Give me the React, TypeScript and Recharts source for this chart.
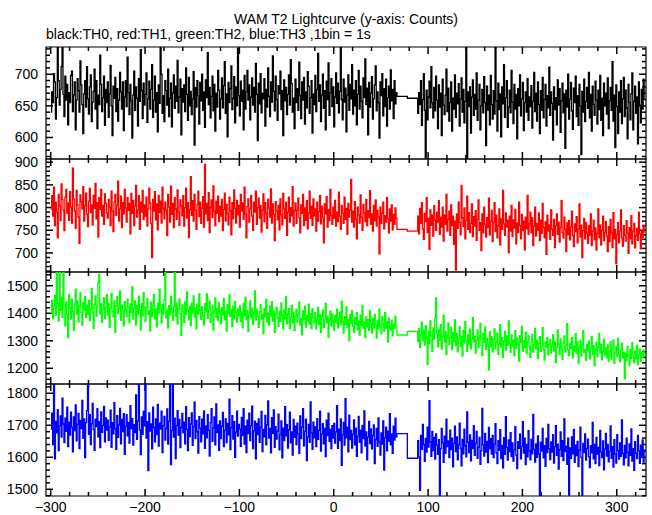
import { ComposedChart, Line, XAxis, YAxis, ReferenceArea } from 'recharts';

// time bins (1 bin = 1 s): segment A from -300, two wide gap bins, segment B from 89
const START_A = -300;
const START_B = 89;
const GAP_T = [67, 78];

const X_TICKS = [-300, -280, -260, -240, -220, -200, -180, -160, -140, -120, -100, -80, -60, -40, -20, 0, 20, 40, 60, 80, 100, 120, 140, 160, 180, 200, 220, 240, 260, 280, 300, 320];

const TH0_TICKS = [570, 580, 590, 600, 610, 620, 630, 640, 650, 660, 670, 680, 690, 700, 710, 720, 730, 740];
const TH1_TICKS = [660, 670, 680, 690, 700, 710, 720, 730, 740, 750, 760, 770, 780, 790, 800, 810, 820, 830, 840, 850, 860, 870, 880, 890, 900];
const TH2_TICKS = [1160, 1180, 1200, 1220, 1240, 1260, 1280, 1300, 1320, 1340, 1360, 1380, 1400, 1420, 1440, 1460, 1480, 1500, 1520, 1540];
const TH3_TICKS = [1480, 1500, 1520, 1540, 1560, 1580, 1600, 1620, 1640, 1660, 1680, 1700, 1720, 1740, 1760, 1780, 1800, 1820];

// TH0 (black)
const th0A = [
  640, 672, 655, 701, 688, 629, 663, 745, 690, 651, 676, 712, 748, 668, 633, 697, 659, 684, 620, 671,
  655, 698, 705, 641, 667, 688, 612, 659, 693, 674, 640, 721, 683, 652, 606, 669, 690, 648, 712, 661,
  637, 680, 699, 625, 656, 673, 708, 645, 690, 614, 667, 652, 730, 684, 641, 663, 697, 619, 676, 655,
  688, 632, 669, 714, 650, 603, 681, 662, 695, 641, 677, 626, 659, 703, 672, 645, 688, 611, 664, 690,
  649, 727, 671, 636, 684, 658, 599, 667, 705, 643, 680, 662, 618, 693, 657, 739, 674, 630, 686, 651,
  668, 702, 624, 661, 689, 645, 676, 715, 632, 659, 697, 640, 671, 609, 683, 654, 748, 700, 638, 666,
  625, 690, 674, 651, 708, 633, 662, 686, 617, 670, 699, 646, 681, 657, 722, 639, 664, 692, 604, 677,
  656, 683, 641, 710, 668, 627, 695, 650, 673, 636, 661, 704, 588, 679, 648, 690, 666, 621, 687, 658,
  700, 643, 672, 616, 691, 663, 734, 652, 679, 631, 665, 697, 642, 684, 610, 670, 648, 706, 675, 629,
  661, 694, 647, 682, 720, 638, 669, 601, 687, 655, 677, 713, 644, 662, 696, 623, 680, 650, 741, 666,
  634, 689, 657, 675, 612, 698, 645, 672, 706, 659, 683, 628, 664, 694, 651, 679, 640, 717, 668, 595,
  686, 653, 701, 639, 670, 661, 693, 618, 676, 648, 710, 665, 633, 688, 656, 729, 673, 642, 697, 660,
  627, 682, 669, 705, 644, 674, 603, 691, 658, 679, 636, 668, 699, 651, 723, 685, 640, 662, 614, 692,
  655, 677, 643, 719, 666, 630, 688, 659, 695, 621, 672, 647, 704, 681, 638, 663, 690, 607, 669, 652,
  698, 641, 676, 733, 657, 683, 625, 667, 700, 646, 674, 612, 689, 660, 718, 635, 671, 693, 649, 680,
  617, 664, 702, 654, 686, 639, 673, 745, 660, 628, 692, 656, 678, 609, 667, 699, 643, 684, 661, 715,
  637, 675, 650, 690, 620, 668, 706, 645, 681, 657, 631, 694, 663, 724, 652, 678, 604, 687, 648, 670,
  696, 629, 661, 683, 713, 642, 672, 655, 599, 688, 666, 701, 634, 677, 649, 692, 618, 663, 681, 645,
  707, 658, 676, 630, 690, 653, 671,
];
const th0Gap = [665, 662];
const th0B = [
  638, 671, 652, 690, 619, 660, 701, 643, 568, 675, 628, 664, 689, 647, 712, 655, 631, 679, 642, 697,
  659, 614, 683, 648, 670, 603, 692, 651, 636, 667, 708, 641, 678, 626, 655, 688, 610, 662, 645, 699,
  632, 670, 653, 685, 618, 661, 694, 640, 676, 623, 657, 744, 566, 672, 649, 680, 607, 664, 691, 635,
  668, 645, 702, 627, 659, 684, 612, 650, 676, 639, 696, 655, 587, 681, 643, 667, 620, 698, 652, 629,
  674, 637, 745, 658, 610, 686, 644, 669, 601, 680, 653, 715, 632, 663, 690, 616, 648, 675, 639, 706,
  656, 622, 684, 645, 668, 598, 677, 650, 699, 634, 661, 687, 611, 655, 672, 640, 693, 627, 664, 649,
  682, 615, 657, 703, 641, 670, 626, 688, 652, 606, 674, 643, 695, 631, 660, 684, 618, 666, 647, 711,
  635, 672, 654, 596, 680, 644, 663, 620, 691, 651, 677, 608, 658, 686, 639, 669, 583, 675, 648, 700,
  629, 661, 687, 642, 613, 678, 655, 697, 633, 666, 619, 684, 650, 573, 673, 640, 692, 625, 657, 679,
  646, 703, 631, 668, 610, 681, 652, 635, 689, 659, 621, 675, 644, 698, 627, 662, 603, 686, 650, 670,
  637, 694, 614, 658, 679, 643, 720, 626, 667, 584, 683, 649, 606, 672, 640, 690, 622, 661, 695, 633,
  675, 647, 598, 684, 655, 628, 669, 702, 612, 657, 681, 638, 664, 590, 688, 651, 623, 676, 645, 692,
  660,
];

// TH1 (red)
const th1A = [
  797, 826, 781, 845, 760, 812, 790, 733, 829, 804, 771, 852, 818, 795, 749, 823, 840, 787, 810, 772,
  835, 801, 766, 887, 819, 792, 754, 838, 806, 779, 721, 828, 813, 797, 846, 770, 804, 832, 785, 758,
  814, 842, 789, 806, 762, 827, 798, 853, 775, 811, 735, 822, 796, 840, 781, 805, 763, 830, 809, 788,
  777, 818, 801, 760, 836, 792, 747, 812, 829, 783, 805, 858, 770, 797, 825, 756, 811, 786, 840, 799,
  768, 822, 794, 809, 742, 831, 787, 815, 760, 803, 849, 779, 795, 826, 752, 812, 790, 838, 774, 806,
  781, 823, 759, 797, 843, 810, 765, 690, 818, 792, 835, 773, 808, 751, 827, 789, 814, 766, 845, 798,
  775, 812, 794, 738, 829, 801, 768, 847, 785, 809, 756, 822, 797, 774, 839, 790, 761, 817, 804, 782,
  826, 759, 800, 843, 777, 811, 734, 796, 868, 783, 815, 770, 829, 794, 752, 807, 836, 780, 812, 765,
  798, 824, 757, 895, 786, 809, 771, 833, 745, 801, 817, 778, 848, 792, 760, 814, 787, 825, 769, 803,
  781, 818, 749, 796, 832, 770, 807, 787, 762, 823, 793, 740, 811, 775, 839, 798, 766, 816, 784, 805,
  757, 829, 792, 810, 774, 845, 786, 733, 802, 819, 768, 797, 827, 781, 750, 812, 790, 836, 763, 800,
  821, 777, 804, 746, 795, 830, 769, 811, 787, 754, 818, 799, 779, 841, 766, 808, 785, 727, 813, 792,
  773, 805, 751, 819, 784, 762, 831, 797, 776, 812, 739, 790, 823, 768, 800, 782, 846, 759, 793, 810,
  765, 794, 821, 778, 744, 806, 787, 829, 760, 799, 772, 815, 753, 788, 836, 776, 803, 761, 819, 782,
  797, 748, 812, 770, 791, 827, 764, 803, 779, 722, 808, 786, 824, 757, 795, 771, 840, 783, 763, 801,
  776, 816, 759, 790, 769, 834, 781, 752, 805, 787, 765, 823, 774, 798, 741, 809, 779, 795, 862, 768,
  792, 757, 813, 775, 731, 801, 784, 766, 828, 779, 750, 807, 788, 769, 818, 760, 793, 778, 837, 763,
  786, 748, 805, 771, 817, 759, 794, 779, 698, 801, 765, 788, 812, 753, 782, 768, 822, 775, 744, 797,
  770, 806, 751, 785, 763, 799, 776,
];
const th1Gap = [752, 748];
const th1B = [
  781, 742, 798, 765, 811, 753, 730, 787, 769, 822, 745, 776, 708, 795, 761, 783, 737, 804, 772, 750,
  790, 768, 815, 741, 779, 757, 801, 726, 784, 763, 829, 748, 774, 792, 739, 806, 760, 781, 719, 770,
  662, 786, 754, 812, 767, 740, 849, 778, 758, 799, 731, 771, 825, 752, 789, 745, 765, 808, 736, 780,
  759, 793, 728, 774, 817, 750, 767, 705, 786, 744, 801, 762, 735, 778, 756, 821, 740, 770, 794, 725,
  768, 811, 747, 783, 733, 760, 797, 718, 775, 752, 838, 764, 739, 788, 757, 772, 701, 781, 748, 805,
  736, 773, 755, 796, 720, 766, 745, 812, 760, 731, 785, 749, 770, 707, 779, 753, 827, 741, 764, 790,
  744, 778, 716, 759, 801, 737, 765, 750, 788, 727, 772, 743, 809, 756, 733, 769, 697, 783, 748, 762,
  730, 795, 752, 739, 774, 712, 760, 786, 741, 768, 724, 757, 815, 745, 733, 779, 752, 703, 766, 740,
  771, 729, 757, 792, 738, 714, 764, 747, 780, 722, 753, 808, 735, 761, 690, 749, 776, 731, 767, 744,
  721, 760, 739, 786, 716, 748, 772, 729, 755, 706, 743, 797, 734, 762, 718, 750, 781, 727, 745, 769,
  737, 703, 758, 725, 774, 744, 712, 789, 731, 752, 676, 741, 767, 722, 748, 795, 733, 715, 760, 739,
  726, 771, 743, 699, 756, 731, 782, 720, 748, 765, 711, 738, 754, 728, 790, 742, 709, 750, 733, 761,
  744,
];

// TH2 (green)
const th2A = [
  1402, 1448, 1381, 1427, 1465, 1393, 1560, 1436, 1372, 1560, 1410, 1459, 1385, 1560, 1430, 1354, 1441, 1398, 1312, 1467,
  1420, 1379, 1452, 1406, 1338, 1433, 1488, 1397, 1444, 1369, 1426, 1475, 1403, 1357, 1439, 1412, 1461, 1384, 1429, 1395,
  1447, 1373, 1416, 1490, 1402, 1345, 1432, 1463, 1389, 1425, 1511, 1541, 1398, 1436, 1367, 1414, 1456, 1381, 1422, 1468,
  1393, 1437, 1349, 1418, 1472, 1406, 1386, 1445, 1331, 1427, 1460, 1399, 1417, 1481, 1374, 1430, 1408, 1354, 1442, 1413,
  1388, 1451, 1422, 1366, 1434, 1403, 1496, 1379, 1419, 1445, 1357, 1428, 1397, 1462, 1411, 1340, 1436, 1390, 1475, 1420,
  1371, 1424, 1453, 1396, 1409, 1336, 1440, 1387, 1429, 1468, 1380, 1415, 1351, 1437, 1401, 1488, 1419, 1365, 1432, 1397,
  1449, 1560, 1383, 1412, 1346, 1428, 1393, 1461, 1405, 1374, 1425, 1560, 1390, 1438, 1362, 1416, 1452, 1399, 1320, 1430,
  1408, 1366, 1441, 1395, 1478, 1414, 1377, 1423, 1355, 1437, 1402, 1463, 1386, 1419, 1343, 1433, 1396, 1470, 1411, 1378,
  1424, 1391, 1357, 1435, 1406, 1470, 1382, 1413, 1444, 1367, 1399, 1429, 1339, 1410, 1456, 1385, 1417, 1373, 1438, 1401,
  1362, 1420, 1394, 1453, 1376, 1408, 1335, 1431, 1398, 1467, 1389, 1412, 1351, 1426, 1380, 1442, 1404, 1368, 1415, 1390,
  1427, 1371, 1403, 1348, 1436, 1392, 1459, 1377, 1410, 1333, 1398, 1445, 1383, 1419, 1360, 1402, 1481, 1375, 1414, 1388,
  1349, 1405, 1432, 1379, 1396, 1326, 1418, 1387, 1450, 1368, 1401, 1357, 1426, 1390, 1442, 1372, 1409, 1331, 1395, 1421,
  1384, 1352, 1407, 1371, 1438, 1393, 1343, 1412, 1380, 1460, 1362, 1398, 1418, 1345, 1386, 1429, 1365, 1403, 1337, 1390,
  1414, 1368, 1396, 1440, 1357, 1381, 1322, 1409, 1377, 1426, 1350, 1392, 1372, 1433, 1361, 1399, 1344, 1417, 1383, 1366,
  1402, 1343, 1379, 1421, 1358, 1395, 1331, 1386, 1411, 1349, 1376, 1436, 1365, 1390, 1313, 1373, 1408, 1354, 1398, 1371,
  1338, 1392, 1366, 1415, 1347, 1381, 1404, 1359, 1444, 1370, 1328, 1388, 1360, 1423, 1349, 1377, 1301, 1395, 1364, 1410,
  1352, 1331, 1384, 1359, 1402, 1340, 1372, 1321, 1393, 1356, 1429, 1345, 1368, 1312, 1387, 1350, 1377, 1338, 1410, 1363,
  1329, 1381, 1347, 1396, 1358, 1310, 1374, 1343, 1415, 1354, 1326, 1388, 1362, 1335, 1403, 1346, 1370, 1296, 1382, 1351,
  1339, 1375, 1318, 1360, 1344, 1389, 1353,
];
const th2Gap = [1321, 1334];
const th2B = [
  1297, 1345, 1276, 1322, 1368, 1301, 1338, 1284, 1355, 1310, 1214, 1333, 1290, 1372, 1318, 1262, 1347, 1306, 1381, 1456,
  1325, 1278, 1341, 1302, 1359, 1270, 1316, 1392, 1295, 1334, 1251, 1320, 1365, 1287, 1311, 1349, 1268, 1330, 1297, 1376,
  1283, 1326, 1260, 1308, 1351, 1279, 1315, 1244, 1337, 1292, 1370, 1301, 1262, 1323, 1289, 1342, 1271, 1306, 1385, 1296,
  1318, 1255, 1301, 1339, 1276, 1312, 1363, 1284, 1247, 1327, 1294, 1350, 1269, 1309, 1286, 1194, 1332, 1278, 1315, 1260,
  1305, 1343, 1270, 1296, 1328, 1251, 1288, 1359, 1277, 1312, 1240, 1299, 1335, 1266, 1318, 1283, 1372, 1290, 1258, 1321,
  1281, 1302, 1246, 1337, 1272, 1310, 1288, 1226, 1319, 1293, 1352, 1263, 1300, 1275, 1331, 1254, 1296, 1318, 1279, 1240,
  1294, 1323, 1259, 1286, 1345, 1271, 1302, 1235, 1290, 1315, 1262, 1281, 1348, 1268, 1230, 1296, 1277, 1311, 1249, 1287,
  1305, 1256, 1282, 1322, 1263, 1297, 1221, 1275, 1340, 1288, 1251, 1309, 1270, 1233, 1292, 1318, 1259, 1284, 1362, 1266,
  1247, 1290, 1273, 1312, 1238, 1281, 1261, 1326, 1255, 1296, 1219, 1274, 1301, 1244, 1283, 1337, 1258, 1269, 1229, 1288,
  1264, 1299, 1235, 1272, 1316, 1250, 1283, 1209, 1267, 1295, 1242, 1278, 1327, 1256, 1287, 1231, 1262, 1306, 1248, 1273,
  1240, 1285, 1226, 1262, 1297, 1233, 1271, 1302, 1218, 1256, 1280, 1243, 1309, 1251, 1224, 1266, 1291, 1237, 1259, 1162,
  1255, 1228, 1279, 1244, 1210, 1268, 1236, 1293, 1249, 1221, 1262, 1234, 1284, 1214, 1250, 1270, 1225, 1257, 1239, 1266,
  1245,
];

// TH3 (blue)
const th3A = [
  1688, 1738, 1640, 1840, 1595, 1712, 1676, 1749, 1621, 1698, 1729, 1663, 1785, 1704, 1646, 1722, 1681, 1757, 1633, 1710,
  1669, 1741, 1694, 1617, 1726, 1683, 1764, 1651, 1703, 1737, 1627, 1715, 1690, 1778, 1659, 1720, 1599, 1708, 1746, 1840,
  1672, 1733, 1640, 1705, 1768, 1687, 1622, 1719, 1696, 1752, 1664, 1711, 1630, 1742, 1678, 1700, 1759, 1648, 1723, 1685,
  1716, 1653, 1694, 1747, 1631, 1708, 1673, 1771, 1689, 1625, 1730, 1662, 1701, 1753, 1642, 1718, 1680, 1736, 1609, 1697,
  1733, 1667, 1709, 1644, 1761, 1690, 1721, 1638, 1702, 1677, 1795, 1656, 1714, 1840, 1685, 1608, 1726, 1672, 1743, 1698,
  1840, 1660, 1711, 1558, 1739, 1682, 1704, 1626, 1757, 1693, 1648, 1720, 1671, 1765, 1635, 1707, 1688, 1744, 1615, 1699,
  1728, 1654, 1690, 1751, 1641, 1712, 1840, 1577, 1683, 1840, 1663, 1722, 1596, 1700, 1746, 1669, 1718, 1630, 1693, 1737,
  1676, 1710, 1642, 1758, 1687, 1621, 1724, 1665, 1704, 1739, 1637, 1696, 1772, 1658, 1715, 1680, 1613, 1727, 1691, 1648,
  1719, 1673, 1745, 1628, 1698, 1661, 1733, 1684, 1604, 1708, 1752, 1650, 1692, 1726, 1639, 1767, 1677, 1701, 1622, 1714,
  1658, 1697, 1740, 1633, 1685, 1721, 1646, 1706, 1670, 1782, 1624, 1693, 1730, 1657, 1711, 1600, 1679, 1744, 1666, 1703,
  1689, 1634, 1725, 1668, 1752, 1641, 1697, 1615, 1716, 1674, 1738, 1652, 1699, 1760, 1627, 1683, 1713, 1595, 1706, 1671,
  1720, 1647, 1693, 1743, 1618, 1687, 1664, 1731, 1639, 1701, 1776, 1660, 1690, 1614, 1724, 1675, 1748, 1631, 1696, 1657,
  1682, 1735, 1623, 1670, 1714, 1598, 1691, 1652, 1758, 1667, 1702, 1629, 1686, 1741, 1645, 1679, 1607, 1718, 1662, 1697,
  1640, 1707, 1673, 1612, 1729, 1658, 1694, 1752, 1636, 1681, 1719, 1590, 1664, 1703, 1647, 1773, 1676, 1625, 1710, 1661,
  1695, 1633, 1721, 1656, 1684, 1744, 1619, 1673, 1705, 1642, 1690, 1602, 1716, 1668, 1738, 1650, 1687, 1627, 1699, 1660,
  1706, 1644, 1679, 1761, 1628, 1688, 1652, 1720, 1575, 1670, 1709, 1638, 1783, 1661, 1694, 1617, 1732, 1655, 1684, 1629,
  1672, 1717, 1639, 1691, 1603, 1666, 1728, 1647, 1685, 1614, 1700, 1658, 1745, 1635, 1679, 1592, 1663, 1712, 1643, 1689,
  1626, 1668, 1701, 1580, 1655, 1690, 1634, 1723, 1648, 1607, 1676, 1641, 1714, 1560, 1661, 1694, 1620, 1682, 1650, 1736,
  1639, 1673, 1612, 1697, 1654, 1722, 1664,
];
const th3Gap = [1674, 1597];
const th3B = [
  1652, 1601, 1497, 1668, 1625, 1703, 1640, 1587, 1659, 1616, 1694, 1632, 1777, 1648, 1603, 1681, 1621, 1662, 1594, 1673,
  1638, 1609, 1655, 1470, 1627, 1690, 1645, 1584, 1666, 1612, 1719, 1633, 1651, 1599, 1685, 1624, 1660, 1570, 1643, 1697,
  1618, 1664, 1592, 1639, 1707, 1628, 1573, 1656, 1611, 1688, 1636, 1601, 1742, 1647, 1615, 1670, 1589, 1653, 1627, 1699,
  1606, 1644, 1681, 1597, 1631, 1662, 1578, 1620, 1753, 1639, 1604, 1675, 1616, 1650, 1583, 1693, 1626, 1658, 1610, 1668,
  1599, 1641, 1705, 1614, 1580, 1652, 1622, 1686, 1596, 1637, 1567, 1661, 1609, 1727, 1630, 1591, 1654, 1618, 1677, 1602,
  1645, 1588, 1623, 1696, 1607, 1565, 1649, 1628, 1672, 1595, 1634, 1711, 1613, 1660, 1577, 1640, 1601, 1683, 1620, 1592,
  1656, 1611, 1734, 1625, 1585, 1642, 1600, 1667, 1610, 1470, 1647, 1619, 1690, 1598, 1636, 1572, 1659, 1615, 1703, 1627,
  1593, 1648, 1616, 1671, 1582, 1633, 1699, 1606, 1641, 1563, 1624, 1679, 1603, 1652, 1590, 1720, 1618, 1635, 1578, 1660,
  1470, 1629, 1597, 1664, 1611, 1687, 1584, 1638, 1605, 1650, 1571, 1622, 1694, 1600, 1470, 1643, 1615, 1673, 1591, 1628,
  1657, 1602, 1568, 1636, 1614, 1709, 1595, 1640, 1580, 1662, 1609, 1631, 1574, 1684, 1617, 1599, 1651, 1561, 1626, 1675,
  1604, 1640, 1586, 1619, 1698, 1597, 1633, 1569, 1655, 1610, 1582, 1671, 1621, 1594, 1645, 1603, 1717, 1612, 1576, 1637,
  1598, 1660, 1615, 1573, 1642, 1606, 1689, 1588, 1627, 1559, 1649, 1613, 1596, 1668, 1620, 1581, 1638, 1602, 1654, 1585,
  1625,
];

const FONT = '"Liberation Sans", Arial, Helvetica, sans-serif';
const X_DOMAIN: [number, number] = [-305, 331];
const PAD = 10;
const PLOT_W = 600; // 652 - 46 (left axis) - 6 (right margin)

type Row = { t: number; v: number };

const buildRows = (a: number[], gap: number[], b: number[]): Row[] => {
  const rows: Row[] = [];
  a.forEach((v, i) => rows.push({ t: START_A + i, v }));
  gap.forEach((v, i) => rows.push({ t: GAP_T[i], v }));
  b.forEach((v, i) => rows.push({ t: START_B + i, v }));
  return rows;
};

const fmt = (v: number) => (v < 0 ? `\u2212${Math.abs(v)}` : `${v}`);

const panels = [
  { top: 47, height: 112, color: '#000000', rows: buildRows(th0A, th0Gap, th0B), domain: [566, 743], ticks: TH0_TICKS, major: 50 },
  { top: 159, height: 113, color: '#ff0000', rows: buildRows(th1A, th1Gap, th1B), domain: [658, 907], ticks: TH1_TICKS, major: 50 },
  { top: 272, height: 112, color: '#00ff00', rows: buildRows(th2A, th2Gap, th2B), domain: [1143, 1550], ticks: TH2_TICKS, major: 100 },
  { top: 384, height: 112, color: '#0000ff', rows: buildRows(th3A, th3Gap, th3B), domain: [1479, 1829], ticks: TH3_TICKS, major: 100 },
];

// inward tick marks as thin filled areas: sizes in px turned into axis units
type TickBox = { x1: number; x2: number; y1: number; y2: number };

const buildTickBoxes = (domain: number[], height: number, yTicks: number[], major: number): TickBox[] => {
  const ux = (X_DOMAIN[1] - X_DOMAIN[0]) / PLOT_W;
  const uy = (domain[1] - domain[0]) / height;
  const hw = 0.75;
  const boxes: TickBox[] = [];
  X_TICKS.forEach((t) => {
    const len = t % 100 === 0 ? 7 : 4;
    boxes.push({ x1: t - hw * ux, x2: t + hw * ux, y1: domain[1] - len * uy, y2: domain[1] });
    boxes.push({ x1: t - hw * ux, x2: t + hw * ux, y1: domain[0], y2: domain[0] + len * uy });
  });
  yTicks.forEach((v) => {
    const len = v % major === 0 ? 7 : 4;
    boxes.push({ x1: X_DOMAIN[0], x2: X_DOMAIN[0] + len * ux, y1: v - hw * uy, y2: v + hw * uy });
    boxes.push({ x1: X_DOMAIN[1] - len * ux, x2: X_DOMAIN[1], y1: v - hw * uy, y2: v + hw * uy });
  });
  return boxes;
};

const makeBottomLabel = (labels: boolean) => (p: any) => {
  if (!labels || p.payload.value % 100 !== 0) return <g />;
  return (
    <text x={Number(p.x)} y={Number(p.y) + 15.5} textAnchor="middle" fontFamily={FONT} fontSize={14} fill="#000">
      {fmt(p.payload.value)}
    </text>
  );
};

const makeLeftLabel = (major: number) => (p: any) => {
  if (p.payload.value % major !== 0) return <g />;
  return (
    <text x={Number(p.x) - 8} y={Number(p.y) + 5} textAnchor="end" fontFamily={FONT} fontSize={14} fill="#000">
      {p.payload.value}
    </text>
  );
};

const App = () => {
  return (
    <div style={{ position: 'absolute', left: 0, top: 0, width: 652, height: 515, background: '#fff', overflow: 'hidden' }}>
      <style>{'.recharts-surface { overflow: visible; }'}</style>
      <svg width={652} height={46} style={{ position: 'absolute', left: 0, top: 0 }}>
        <text x={346} y={24} textAnchor="middle" fontFamily={FONT} fontSize={14} fill="#000">
          WAM T2 Lightcurve (y-axis: Counts)
        </text>
        <text x={46} y={39} fontFamily={FONT} fontSize={14} fill="#000">
          black:TH0, red:TH1, green:TH2, blue:TH3 ,1bin = 1s
        </text>
      </svg>
      {panels.map((pn, i) => {
        const last = i === panels.length - 1;
        const bottomH = last ? 22 : PAD;
        const boxes = buildTickBoxes(pn.domain, pn.height, pn.ticks, pn.major);
        return (
          <div key={i} style={{ position: 'absolute', left: 0, top: pn.top - PAD }}>
            <ComposedChart width={652} height={PAD + pn.height + bottomH} data={pn.rows} margin={{ top: PAD, right: 6, bottom: 0, left: 0 }}>
              <XAxis xAxisId="b" orientation="bottom" type="number" dataKey="t" domain={X_DOMAIN} allowDataOverflow
                ticks={X_TICKS} interval={0} height={bottomH} tickSize={0} tickMargin={0} tickLine={false}
                axisLine={false} tick={makeBottomLabel(last)} />
              <YAxis yAxisId="l" orientation="left" type="number" domain={pn.domain} allowDataOverflow
                ticks={pn.ticks} interval={0} width={46} tickSize={0} tickMargin={0} tickLine={false}
                axisLine={false} tick={makeLeftLabel(pn.major)} />
              {boxes.map((b, k) => (
                <ReferenceArea key={k} xAxisId="b" yAxisId="l" x1={b.x1} x2={b.x2} y1={b.y1} y2={b.y2}
                  fill="#000" fillOpacity={1} stroke="none" ifOverflow="visible" />
              ))}
              <ReferenceArea xAxisId="b" yAxisId="l" x1={X_DOMAIN[0]} x2={X_DOMAIN[1]} y1={pn.domain[0]} y2={pn.domain[1]}
                stroke="#000" strokeWidth={1.2} fill="none" fillOpacity={0} ifOverflow="visible" />
              <Line xAxisId="b" yAxisId="l" dataKey="v" type="stepAfter" stroke={pn.color} strokeWidth={1.3}
                dot={false} activeDot={false} isAnimationActive={false} />
            </ComposedChart>
          </div>
        );
      })}
    </div>
  );
};

export default App;
